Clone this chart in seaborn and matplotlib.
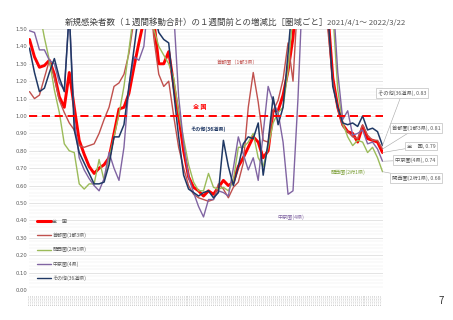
import numpy as np
import pandas as pd
import matplotlib
matplotlib.use("Agg")
import matplotlib.pyplot as plt
import seaborn as sns
from matplotlib.lines import Line2D
from matplotlib.ticker import MultipleLocator

# ---------------- data (5-day samples, 2021/4/1 .. 2022/3/22) ----------------
dates = pd.date_range("2021-04-01", periods=72, freq="5D")

zenkoku = [1.44, 1.34, 1.28, 1.29, 1.32, 1.24, 1.11, 1.05, 1.25, 1.05,
           0.86, 0.78, 0.71, 0.67, 0.70, 0.72, 0.76, 0.90, 1.04, 1.05,
           1.13, 1.28, 1.42, 1.55, 1.70, 1.55, 1.30, 1.30, 1.37, 1.18,
           1.00, 0.80, 0.65, 0.59, 0.57, 0.54, 0.57, 0.55, 0.59, 0.63,
           0.60, 0.62, 0.71, 0.76, 0.82, 0.88, 0.85, 0.76, 0.80, 1.03,
           1.03, 1.12, 1.26, 1.45, 1.80, 2.00, 2.10, 2.10, 2.00, 1.90,
           1.60, 1.22, 1.05, 0.95, 0.91, 0.90, 0.85, 0.94, 0.87, 0.86,
           0.85, 0.79]
shutoken = [1.14, 1.10, 1.12, 1.22, 1.32, 1.22, 1.09, 1.02, 0.96, 0.92,
            0.83, 0.82, 0.83, 0.84, 0.90, 0.98, 1.05, 1.17, 1.19, 1.24,
            1.36, 1.55, 1.70, 1.80, 1.75, 1.45, 1.24, 1.17, 1.20, 1.00,
            0.82, 0.70, 0.60, 0.55, 0.53, 0.52, 0.51, 0.52, 0.61, 0.58,
            0.53, 0.59, 0.62, 0.73, 1.05, 1.25, 1.08, 0.86, 0.85, 1.03,
            1.09, 1.21, 1.42, 1.20, 1.70, 2.00, 2.10, 2.10, 2.00, 1.80,
            1.50, 1.20, 1.04, 0.94, 0.91, 0.88, 0.87, 0.95, 0.89, 0.86,
            0.86, 0.81]
kansaiken = [1.80, 1.70, 1.60, 1.45, 1.32, 1.15, 1.02, 0.84, 0.80, 0.79,
             0.61, 0.58, 0.61, 0.61, 0.75, 0.63, 0.76, 0.88, 1.01, 1.17,
             1.38, 1.60, 1.80, 1.90, 1.80, 1.50, 1.40, 1.35, 1.30, 1.22,
             1.02, 0.87, 0.72, 0.62, 0.57, 0.57, 0.67, 0.59, 0.58, 0.59,
             0.57, 0.63, 0.82, 0.82, 0.85, 0.90, 0.76, 0.71, 0.82, 0.96,
             1.02, 1.05, 1.26, 1.60, 1.90, 2.10, 2.20, 2.20, 2.10, 2.00,
             1.80, 1.60, 1.15, 0.96, 0.88, 0.83, 0.86, 0.85, 0.79, 0.82,
             0.76, 0.68]
chukyoken = [1.49, 1.48, 1.38, 1.38, 1.32, 1.30, 1.19, 1.15, 1.60, 0.98,
             0.76, 0.69, 0.64, 0.60, 0.57, 0.64, 0.79, 0.70, 0.63, 0.82,
             1.17, 1.34, 1.32, 1.40, 1.70, 1.90, 2.00, 1.90, 1.80, 1.60,
             1.11, 0.84, 0.65, 0.56, 0.48, 0.42, 0.52, 0.52, 0.57, 0.56,
             0.54, 0.70, 0.88, 0.78, 0.69, 0.76, 0.63, 0.90, 1.17, 1.08,
             1.02, 0.85, 0.55, 0.57, 1.10, 1.80, 2.10, 2.20, 2.10, 2.00,
             1.90, 1.70, 1.25, 0.98, 1.03, 0.89, 0.90, 0.92, 0.84, 0.85,
             0.81, 0.74]
sonota = [1.39, 1.25, 1.14, 1.16, 1.25, 1.33, 1.22, 1.14, 1.60, 0.92,
          0.79, 0.73, 0.67, 0.61, 0.61, 0.62, 0.72, 0.88, 0.88, 0.95,
          1.17, 1.38, 1.60, 1.80, 1.80, 1.60, 1.48, 1.44, 1.42, 1.14,
          0.88, 0.66, 0.58, 0.56, 0.54, 0.56, 0.57, 0.53, 0.56, 0.86,
          0.71, 0.60, 0.71, 0.84, 0.88, 0.87, 0.96, 0.66, 0.85, 1.11,
          0.95, 1.05, 1.36, 1.70, 2.00, 2.10, 2.10, 2.00, 1.90, 1.80,
          1.60, 1.17, 1.05, 0.96, 0.95, 0.96, 0.94, 1.00, 0.92, 0.93,
          0.91, 0.83]

legend_names = ["全　国", "首都圏(1都3県)", "関西圏(2府1県)", "中京圏(4県)", "その他(36道県)"]
series = [zenkoku, shutoken, kansaiken, chukyoken, sonota]
colors = ["#FF0000", "#C0504D", "#9BBB59", "#8064A2", "#1F3864"]
widths = [2.1, 1.0, 1.0, 1.0, 1.1]
yticks = np.round(np.arange(0, 1.51, 0.1), 2)

title_main = "新規感染者数（１週間移動合計）の１週間前との増減比［圏域ごと］"
title_period = "2021/4/1～ 2022/3/22"

# ---------------- figure ----------------
sns.set_theme(style="white")
plt.rcParams["font.family"] = ["Noto Sans CJK JP", "DejaVu Sans"]

W, H = 453, 320
fig = plt.figure(figsize=(W / 100, H / 100), dpi=100)
fig.patch.set_facecolor("white")
ax = fig.add_axes([29 / W, (H - 290) / H, (383 - 29) / W, (290 - 29) / H])

for vals, c, lw in zip(series, colors, widths):
    sns.lineplot(x=dates, y=vals, color=c, lw=lw, ax=ax, legend=False)

ax.axhline(1.0, color="#FF0000", lw=1.4, ls=(0, (4.2, 2.4)), zorder=5)

ax.set_ylim(0, 1.5)
ax.set_xlim(dates[0] - pd.Timedelta(days=0.5), dates[-1] + pd.Timedelta(days=0.5))
ax.set_yticks(yticks)
ax.set_yticklabels([f"{v:.2f}" for v in yticks], fontsize=3.8, color="#595959",
                   family=["DejaVu Sans"])
ax.yaxis.set_minor_locator(MultipleLocator(0.02))
ax.yaxis.grid(True, which="major", color="#D9D9D9", lw=0.5)
ax.yaxis.grid(True, which="minor", color="#EEEEEE", lw=0.35)
ax.xaxis.grid(False)
ax.set_axisbelow(True)

xt = pd.date_range("2021-04-01", "2022-03-22", freq="2D")
ax.set_xticks(xt)
ax.set_xticklabels([d.strftime("%Y/%m/%d") for d in xt], fontsize=1.4, rotation=90,
                   color="#A0A0A0", family=["DejaVu Sans"])
ax.tick_params(axis="x", length=0, pad=2.5)
ax.tick_params(axis="y", length=0, pad=1.5)
ax.set_xlabel("")
ax.set_ylabel("")
for s in ax.spines.values():
    s.set_visible(False)

# ---------------- texts ----------------
def fx(px):
    return px / W

def fy(py):
    return 1 - py / H

fig.text(fx(65), fy(22.5), title_main, fontsize=6.1, color="#404040", va="center", ha="left")
fig.text(fx(327), fy(22.5), title_period, fontsize=5.6, color="#595959", va="center", ha="left")

fig.text(fx(238), fy(63), "首都圏（1都3県）", fontsize=3.7, color="#C0504D", ha="center", va="center")
fig.text(fx(200), fy(106), "全 国", fontsize=4.3, color="#FF0000", ha="center", va="center",
         fontweight="bold")
fig.text(fx(208), fy(129), "その他(36道県)", fontsize=3.7, color="#1F3864", ha="center", va="center",
         fontweight="bold")
fig.text(fx(291), fy(217), "中京圏(4県)", fontsize=3.7, color="#8064A2", ha="center", va="center")
fig.text(fx(348), fy(172), "関西圏(2府1県)", fontsize=3.7, color="#7FA13B", ha="center", va="center")

fig.text(fx(441), fy(301), "7", fontsize=7, color="#333333", ha="center", va="center")

# ---------------- end-value callouts ----------------
callout_pos = {  # label left edge x, center y in pixels
    4: (378, 93),
    1: (392, 128),
    0: (407, 146),
    3: (395, 160),
    2: (392, 178),
}
for i, (lx, ly) in callout_pos.items():
    v = series[i][-1]
    ax.annotate(f"{legend_names[i]}, {v:.2f}", xy=(dates[-1], v), xycoords="data",
                xytext=(lx, H - ly), textcoords="figure pixels",
                fontsize=3.8, color="#595959", ha="left", va="center",
                bbox=dict(boxstyle="square,pad=0.35", fc="white", ec="#BFBFBF", lw=0.5),
                arrowprops=dict(arrowstyle="-", color="#A6A6A6", lw=0.4,
                                shrinkA=0, shrinkB=0),
                annotation_clip=False, zorder=10)

# ---------------- legend ----------------
handles = [Line2D([0], [0], color=c, lw=(2.2 if i == 0 else 1.0)) for i, c in enumerate(colors)]
leg = ax.legend(handles, legend_names, loc="upper left",
                bbox_to_anchor=(fx(37), fy(219)), bbox_transform=fig.transFigure,
                frameon=False, fontsize=3.6, handlelength=2.7, handletextpad=0.4,
                labelspacing=1.75, borderpad=0, borderaxespad=0)
for t in leg.get_texts():
    t.set_color("#595959")

fig.savefig("out.png", dpi=100, facecolor="white")
